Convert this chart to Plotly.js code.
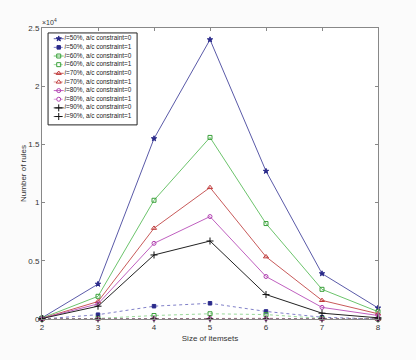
<!DOCTYPE html>
<html><head><meta charset="utf-8">
<script src="https://cdn.plot.ly/plotly-3.0.1.min.js"></script>
<style>html,body{margin:0;padding:0;background:#fbfbfb;}#chart{width:416px;height:360px;}</style>
</head><body><div id="chart"></div>
<script>
const itemsetSizes = [2, 3, 4, 5, 6, 7, 8];
const s50_ac0 = [100, 3000, 15500, 24000, 12700, 3900, 950];
const s50_ac1 = [0, 370, 1100, 1350, 650, 150, 0];
const s60_ac0 = [80, 1950, 10200, 15600, 8200, 2550, 630];
const s60_ac1 = [0, 50, 300, 450, 380, 50, 0];
const s70_ac0 = [60, 1500, 7800, 11300, 5350, 1600, 450];
const s70_ac1 = [0, 20, 60, 80, 60, 10, 0];
const s80_ac0 = [50, 1300, 6500, 8800, 3650, 1000, 300];
const s80_ac1 = [0, 10, 30, 40, 30, 5, 0];
const s90_ac0 = [40, 1100, 5500, 6700, 2100, 500, 100];
const s90_ac1 = [0, 5, 10, 15, 10, 0, 0];
const seriesNames = [
  "<i>i</i>=50%, a/c constraint=0", "<i>i</i>=50%, a/c constraint=1",
  "<i>i</i>=60%, a/c constraint=0", "<i>i</i>=60%, a/c constraint=1",
  "<i>i</i>=70%, a/c constraint=0", "<i>i</i>=70%, a/c constraint=1",
  "<i>i</i>=80%, a/c constraint=0", "<i>i</i>=80%, a/c constraint=1",
  "<i>i</i>=90%, a/c constraint=0", "<i>i</i>=90%, a/c constraint=1"];
const yTickVals = [0, 5000, 10000, 15000, 20000, 25000];
const yTickText = ["0", "0.5", "1", "1.5", "2", "2.5"];
const xTickVals = [2, 3, 4, 5, 6, 7, 8];

const seriesData = [s50_ac0, s50_ac1, s60_ac0, s60_ac1, s70_ac0, s70_ac1, s80_ac0, s80_ac1, s90_ac0, s90_ac1];
const lineColors = ["#5a5aa8", "#8080c8", "#6cc46c", "#9ad89a", "#c85a5a", "#d89090", "#c060c0", "#d898d8", "#222222", "#555555"];
const markerColors = ["#2a2a8a", "#2a2a8a", "#3aa03a", "#3aa03a", "#c03a3a", "#c03a3a", "#b040b0", "#b040b0", "#111111", "#111111"];
const symbols = ["star", "square", "square-open", "square-open", "triangle-up-open", "triangle-up-open", "circle-open", "circle-open", "cross-thin-open", "cross-thin-open"];
const dashes = ["solid", "dot", "solid", "dot", "solid", "dot", "solid", "dot", "solid", "dot"];
const mSizes = [4, 3.5, 4, 4, 4.5, 4.5, 4, 4, 5, 5];

const traces = [];
seriesData.forEach((d, i) => {
  traces.push({
    x: itemsetSizes, y: d, type: "scatter", mode: "lines+markers",
    line: {color: lineColors[i], width: 1, dash: dashes[i]},
    marker: {symbol: symbols[i], size: mSizes[i], color: markerColors[i], line: {color: markerColors[i], width: 1}},
    showlegend: false, cliponaxis: false, hoverinfo: "skip"
  });
});
// legend box background
traces.push({x: [0, 10, 10, 0, 0], y: [0, 0, 10.5, 10.5, 0], xaxis: "x2", yaxis: "y2", type: "scatter", mode: "lines",
  fill: "toself", fillcolor: "#ffffff", line: {width: 0}, showlegend: false, hoverinfo: "skip"});
seriesNames.forEach((name, i) => {
  const yy = 9.84 - i * 0.987;
  traces.push({
    x: [0.64, 1.2, 1.76], y: [yy, yy, yy], xaxis: "x2", yaxis: "y2", type: "scatter", mode: "lines+markers",
    line: {color: lineColors[i], width: 1, dash: dashes[i]},
    marker: {symbol: symbols[i], size: mSizes[i], color: markerColors[i], opacity: [0, 1, 0], line: {color: markerColors[i], width: 1}},
    showlegend: false, cliponaxis: false, hoverinfo: "skip"
  });
  traces.push({
    x: [1.85], y: [yy], xaxis: "x2", yaxis: "y2", type: "scatter", mode: "text", text: [name],
    textposition: "middle right", textfont: {size: 6.4, color: "#222", family: "Liberation Sans, Arial, sans-serif"},
    showlegend: false, cliponaxis: false, hoverinfo: "skip"
  });
});

const axisCommon = {ticks: "inside", ticklen: 3, tickcolor: "#888", showline: true, linecolor: "#888", linewidth: 1,
  mirror: "ticks", showgrid: false, zeroline: false, tickfont: {size: 8, color: "#333"}};
const layout = {
  width: 416, height: 360,
  margin: {l: 42, r: 38, t: 28, b: 41},
  paper_bgcolor: "#fbfbfb", plot_bgcolor: "#ffffff",
  font: {family: "Liberation Sans, Arial, sans-serif", color: "#333"},
  xaxis: Object.assign({}, axisCommon, {range: [2, 8], tickvals: xTickVals, ticktext: xTickVals.map(String),
    title: {text: "Size of itemsets", font: {size: 8, color: "#333"}, standoff: 4}}),
  yaxis: Object.assign({}, axisCommon, {range: [0, 25000], tickvals: yTickVals, ticktext: yTickText,
    title: {text: "Number of rules", font: {size: 8, color: "#333"}, standoff: 0}}),
  xaxis2: {domain: [0.018, 0.283], range: [0, 10], visible: false, anchor: "y2", fixedrange: true},
  yaxis2: {domain: [0.667, 0.983], range: [0, 10.5], visible: false, anchor: "x2", fixedrange: true},
  shapes: [{type: "rect", xref: "paper", yref: "paper", x0: 0.018, x1: 0.283, y0: 0.667, y1: 0.983,
    line: {color: "#222", width: 1}, fillcolor: "rgba(0,0,0,0)", layer: "above"}],
  annotations: [{xref: "paper", yref: "paper", x: -0.005, y: 1.0, xanchor: "left", yanchor: "bottom",
    text: "×10<sup>4</sup>", showarrow: false, font: {size: 7, color: "#333"}}]
};
Plotly.newPlot("chart", traces, layout, {staticPlot: true, displayModeBar: false});
</script></body></html>
